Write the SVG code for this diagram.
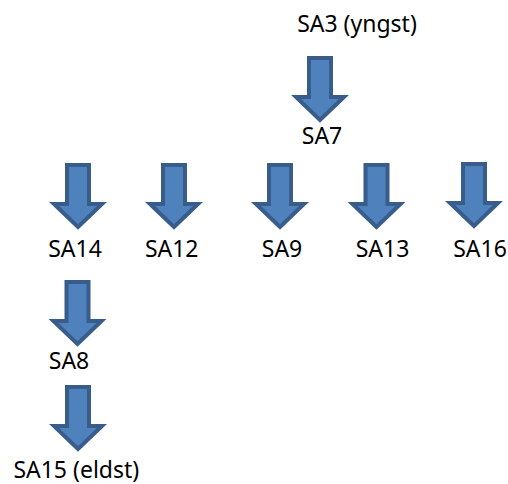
<svg xmlns="http://www.w3.org/2000/svg" xmlns:xlink="http://www.w3.org/1999/xlink" width="508" height="484" viewBox="0 0 508 484">
<style>
.lbl{font-family:"Noto Sans","Liberation Sans",sans-serif;font-size:23px;fill:#000;text-anchor:middle}
.arr{fill:#4f81bd;stroke:#385d8a;stroke-width:4;stroke-linejoin:miter}
</style>
<defs>
<path id="arrow" class="arr" d="M-11,2 H11 V41 H24 L0,64 L-24,41 H-11 Z"/>
</defs>
<rect width="508" height="484" fill="#fff"/>
<g id="connectors">
<use xlink:href="#arrow" href="#arrow" transform="translate(320,56)"/>
<use xlink:href="#arrow" href="#arrow" transform="translate(78,163)"/>
<use xlink:href="#arrow" href="#arrow" transform="translate(174,163)"/>
<use xlink:href="#arrow" href="#arrow" transform="translate(280,163)"/>
<use xlink:href="#arrow" href="#arrow" transform="translate(376.5,163)"/>
<use xlink:href="#arrow" href="#arrow" transform="translate(474,162)"/>
<use xlink:href="#arrow" href="#arrow" transform="translate(77.5,280)"/>
<use xlink:href="#arrow" href="#arrow" transform="translate(78,385)"/>
</g>
<g id="SA3"><text class="lbl" x="357" y="32">SA3 (yngst)</text></g>
<g id="SA7"><text class="lbl" x="322" y="144">SA7</text></g>
<g id="SA14"><text class="lbl" x="75" y="256.5">SA14</text></g>
<g id="SA12"><text class="lbl" x="171.7" y="256.5">SA12</text></g>
<g id="SA9"><text class="lbl" x="282" y="256.5">SA9</text></g>
<g id="SA13"><text class="lbl" x="382.5" y="256.5">SA13</text></g>
<g id="SA16"><text class="lbl" x="480" y="256.5">SA16</text></g>
<g id="SA8"><text class="lbl" x="69" y="369">SA8</text></g>
<g id="SA15"><text class="lbl" x="76.3" y="478">SA15 (eldst)</text></g>
</svg>
